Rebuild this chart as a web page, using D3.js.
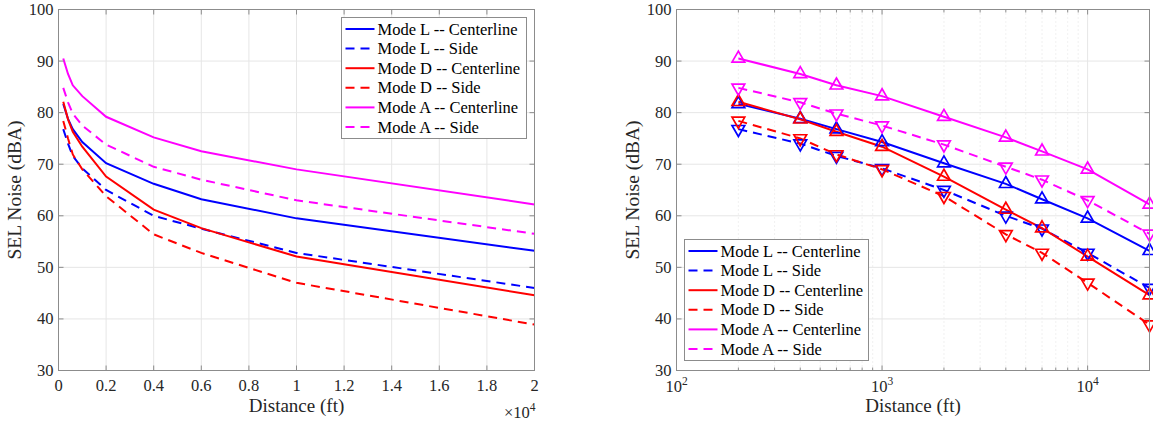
<!DOCTYPE html>
<html>
<head>
<meta charset="utf-8">
<script src="https://cdn.jsdelivr.net/npm/d3@7"></script>
<style>
  body { margin: 0; background: #fff; }
</style>
</head>
<body>
<div class="chart"></div>
<script>
var svgWidth = 1153;
var svgHeight = 421;

// data
var distances = [200, 400, 600, 1000, 2000, 4000, 6000, 10000, 20000];
var modeLCenter = [81.7, 78.8, 76.8, 74.3, 70.2, 66.2, 63.2, 59.5, 53.2];
var modeLSide = [76.8, 74.0, 71.6, 69.2, 65.0, 60.0, 57.5, 52.8, 46.0];
var modeDCenter = [82.1, 78.7, 76.3, 73.4, 67.6, 61.2, 57.6, 52.1, 44.6];
var modeDSide = [78.4, 75.0, 71.9, 69.0, 63.8, 56.4, 52.8, 47.0, 38.9];
var modeACenter = [90.5, 87.5, 85.3, 83.2, 79.2, 75.2, 72.5, 69.0, 62.2];
var modeASide = [84.8, 82.0, 79.8, 77.5, 73.8, 69.5, 67.0, 63.0, 56.5];

var seriesNames = ["Mode L -- Centerline", "Mode L -- Side", "Mode D -- Centerline",
  "Mode D -- Side", "Mode A -- Centerline", "Mode A -- Side"];
var seriesValues = [modeLCenter, modeLSide, modeDCenter, modeDSide, modeACenter, modeASide];
var seriesColors = ["#0000ff", "#0000ff", "#ff0000", "#ff0000", "#ff00ff", "#ff00ff"];
var seriesDashed = [false, true, false, true, false, true];

var yTicks = [30, 40, 50, 60, 70, 80, 90, 100];
var linTicks = [0, 2000, 4000, 6000, 8000, 10000, 12000, 14000, 16000, 18000, 20000];
var logTicks = [100, 1000, 10000];

var series = seriesNames.map((name, i) => ({
  name: name,
  color: seriesColors[i],
  dashed: seriesDashed[i],
  marker: seriesDashed[i] ? "down" : "up",
  values: distances.map((d, j) => ({ x: d, y: seriesValues[i][j] })),
}));

var svg = d3
  .select(".chart")
  .append("svg")
  .attr("width", svgWidth)
  .attr("height", svgHeight);

var gridColor = "#e6e6e6";
var axisColor = "#8c8c8c";
var textColor = "#262626";

function label(sel) {
  return sel.attr("font-family", "Liberation Serif").attr("font-size", 16.5).attr("fill", textColor);
}

function drawPanel(opts) {
  var left = opts.left, right = opts.right, top = 9.5, bottom = 370.5;
  var x = opts.log
    ? d3.scaleLog().domain([100, 20000]).range([left, right])
    : d3.scaleLinear().domain([0, 20000]).range([left, right]);
  var y = d3.scaleLinear().domain([30, 100]).range([bottom, top]);
  var g = svg.append("g");

  // minor grid (log only)
  var minors = [];
  if (opts.log) {
    [100, 1000, 10000].forEach((dec) => {
      for (var k = 2; k <= 9; k++) if (dec * k <= 20000) minors.push(dec * k);
    });
    g.selectAll(".mgrid").data(minors).enter().append("line")
      .attr("x1", (d) => x(d)).attr("x2", (d) => x(d))
      .attr("y1", top).attr("y2", bottom)
      .attr("stroke", "#dcdcdc").attr("stroke-width", 0.8)
      .attr("stroke-dasharray", "1,3");
  }
  var xt = opts.log ? logTicks : linTicks;
  g.selectAll(".xgrid").data(xt).enter().append("line")
    .attr("x1", (d) => x(d)).attr("x2", (d) => x(d))
    .attr("y1", top).attr("y2", bottom)
    .attr("stroke", gridColor).attr("stroke-width", 1);
  g.selectAll(".ygrid").data(yTicks).enter().append("line")
    .attr("x1", left).attr("x2", right)
    .attr("y1", (d) => y(d)).attr("y2", (d) => y(d))
    .attr("stroke", gridColor).attr("stroke-width", 1);

  // lines
  var line = d3.line().x((d) => x(d.x)).y((d) => y(d.y));
  series.forEach((s) => {
    g.append("path")
      .datum(s.values)
      .attr("d", line)
      .attr("fill", "none")
      .attr("stroke", s.color)
      .attr("stroke-width", 2)
      .attr("stroke-dasharray", s.dashed ? "9,6" : null);
  });

  // markers
  if (opts.log) {
    var tri = d3.symbol().type(d3.symbolTriangle).size(70);
    series.forEach((s) => {
      g.selectAll(null).data(s.values).enter().append("path")
        .attr("d", tri)
        .attr("transform", (d) => `translate(${x(d.x)},${y(d.y)})` + (s.marker === "down" ? " rotate(180)" : ""))
        .attr("fill", "none")
        .attr("stroke", s.color)
        .attr("stroke-width", 1.7);
    });
  }

  // box and ticks (inside, like MATLAB)
  g.append("rect")
    .attr("x", left).attr("y", top)
    .attr("width", right - left).attr("height", bottom - top)
    .attr("fill", "none").attr("stroke", axisColor).attr("stroke-width", 1);
  var tl = 5;
  xt.forEach((d) => {
    g.append("line").attr("x1", x(d)).attr("x2", x(d)).attr("y1", bottom).attr("y2", bottom - tl).attr("stroke", axisColor);
    g.append("line").attr("x1", x(d)).attr("x2", x(d)).attr("y1", top).attr("y2", top + tl).attr("stroke", axisColor);
  });
  minors.forEach((d) => {
    g.append("line").attr("x1", x(d)).attr("x2", x(d)).attr("y1", bottom).attr("y2", bottom - 3).attr("stroke", axisColor);
    g.append("line").attr("x1", x(d)).attr("x2", x(d)).attr("y1", top).attr("y2", top + 3).attr("stroke", axisColor);
  });
  yTicks.forEach((d) => {
    g.append("line").attr("x1", left).attr("x2", left + tl).attr("y1", y(d)).attr("y2", y(d)).attr("stroke", axisColor);
    g.append("line").attr("x1", right).attr("x2", right - tl).attr("y1", y(d)).attr("y2", y(d)).attr("stroke", axisColor);
  });

  // tick labels
  g.selectAll(".ylab").data(yTicks).enter().append("text")
    .call(label)
    .attr("x", left - 5).attr("y", (d) => y(d) + 5.5)
    .attr("text-anchor", "end")
    .text((d) => d);
  if (opts.log) {
    logTicks.forEach((d) => {
      var t = g.append("text").call(label).attr("x", x(d)).attr("y", 392)
        .attr("text-anchor", "middle");
      t.append("tspan").text("10");
      t.append("tspan").attr("dy", -7).attr("font-size", 11.5).text(Math.round(Math.log10(d)));
    });
  } else {
    var fmt = (d) => String(+(d / 10000).toFixed(1));
    g.selectAll(".xlab").data(linTicks).enter().append("text")
      .call(label)
      .attr("x", (d) => x(d)).attr("y", 391)
      .attr("text-anchor", "middle")
      .text(fmt);
    var ex = g.append("text").call(label).attr("x", right + 1).attr("y", 418)
      .attr("text-anchor", "end");
    ex.append("tspan").text("\u00d710");
    ex.append("tspan").attr("dy", -7).attr("font-size", 11.5).text("4");
  }

  // axis labels (a bit larger than the tick labels)
  g.append("text").call(label)
    .attr("font-size", 19)
    .attr("x", (left + right) / 2).attr("y", 412)
    .attr("text-anchor", "middle")
    .text("Distance (ft)");
  g.append("text").call(label)
    .attr("font-size", 19.5)
    .attr("transform", `translate(${left - 38},${(top + bottom) / 2}) rotate(-90)`)
    .attr("text-anchor", "middle")
    .text("SEL Noise (dBA)");

  // legend
  var lg = g.append("g").attr("transform", `translate(${opts.legX},${opts.legY})`);
  lg.append("rect")
    .attr("width", opts.legW).attr("height", 121)
    .attr("fill", "#fff").attr("stroke", axisColor).attr("stroke-width", 1);
  series.forEach((s, i) => {
    var ry = 11.5 + i * 19.6;
    lg.append("line")
      .attr("x1", 4).attr("x2", 33).attr("y1", ry).attr("y2", ry)
      .attr("stroke", s.color).attr("stroke-width", 2)
      .attr("stroke-dasharray", s.dashed ? "9,6" : null);
    lg.append("text").call(label)
      .attr("x", 36).attr("y", ry + 5.5)
      .attr("fill", "#000")
      .text(s.name);
  });
}

drawPanel({ left: 58.5, right: 534.5, log: false, legX: 341.5, legY: 17.5, legW: 185 });
drawPanel({ left: 676.5, right: 1149.5, log: true, legX: 684.5, legY: 239.5, legW: 184 });
</script>
</body>
</html>
